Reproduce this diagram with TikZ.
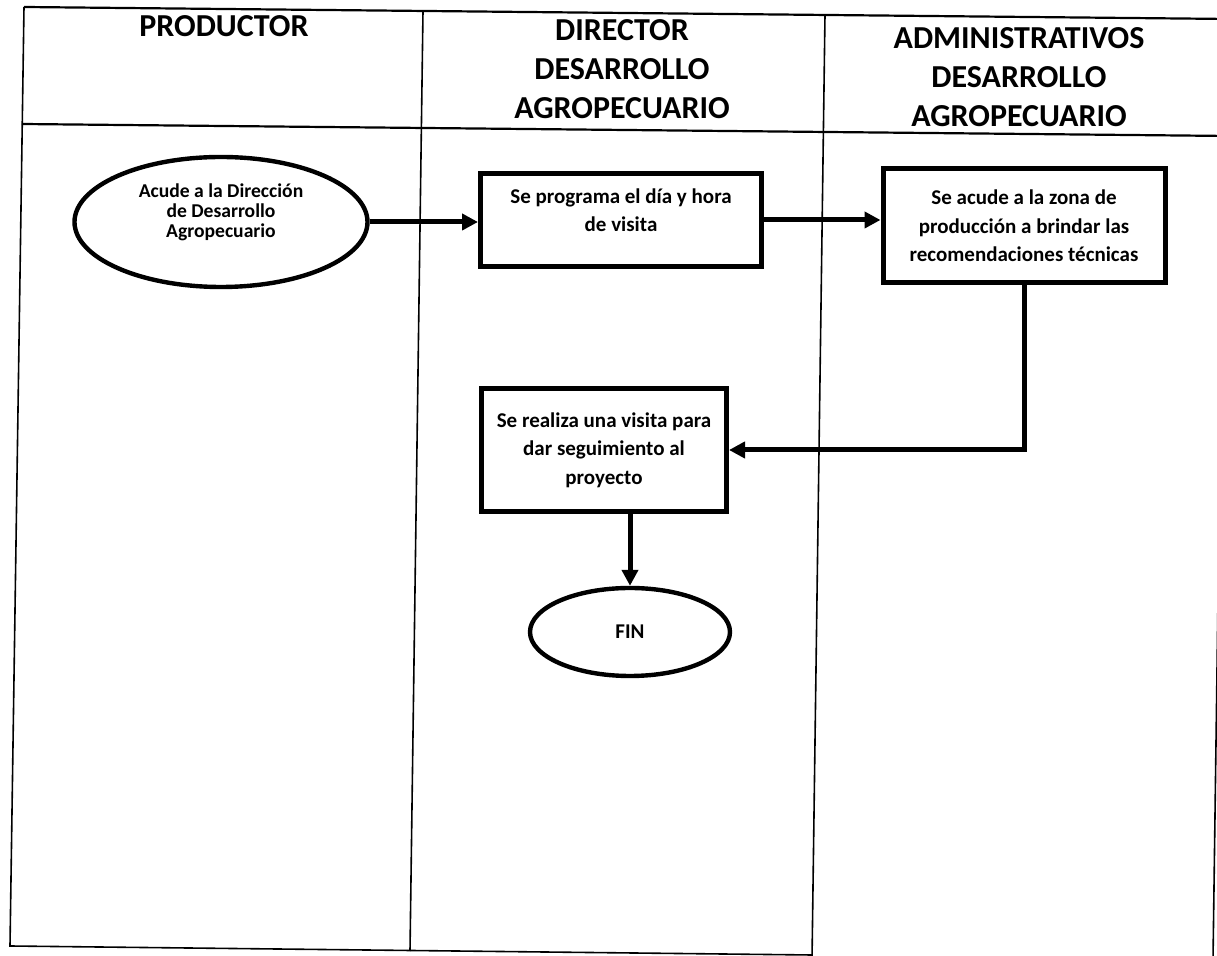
\documentclass[tikz,border=0pt]{standalone}
\usepackage{fontspec}
\setmainfont{Carlito}
\usetikzlibrary{shapes.geometric,arrows.meta}
\newcommand{\liftbox}[2]{\raisebox{#1}[0pt][0pt]{\begin{tabular}{@{}c@{}}#2\end{tabular}}}
\begin{document}
\begin{tikzpicture}[x=0.5pt,y=-0.5pt,
  lane/.style={line width=0.8pt},
  rule/.style={line width=1.1pt},
  head/.style={font=\bfseries\fontsize{16}{19.5}\selectfont, align=center, anchor=center},
  proc/.style={draw, line width=2.5pt, rectangle, inner sep=0pt, align=center, font=\bfseries\fontsize{10.5}{14.2}\selectfont},
  term/.style={draw, line width=2.2pt, ellipse, inner sep=0pt, align=center},
  flow/.style={line width=2.5pt, -{Triangle[length=8pt,width=8pt]}}
]
\useasboundingbox (0,0) rectangle (1217,956);
\begin{scope}
\clip (0,0) rectangle (1217,956);
% lanes (scan is slightly rotated)
\draw[rule] (24,7) -- (1230,19);
\draw[rule] (22,124) -- (1230,136);
\draw[lane] (24,7) -- (10,946) -- (812,955);
\draw[lane] (423,11) -- (410,951);
\draw[lane] (825,15) -- (812,960);
\draw[lane] (1226,19) -- (1213,960);
\end{scope}
% headers
\node[head] (h1) at (224,26) {PRODUCTOR};
\node[head] (h2) at (622,69) {DIRECTOR\\DESARROLLO\\AGROPECUARIO};
\node[head] (h3) at (1019,77) {ADMINISTRATIVOS\\DESARROLLO\\AGROPECUARIO};
% nodes
\node[term, minimum width=146.5pt, minimum height=65pt, font=\bfseries\fontsize{9.8}{10}\selectfont] (e1) at (221,222) {\liftbox{1.6pt}{Acude a la Dirección\\de Desarrollo\\Agropecuario}};
\node[proc, minimum width=140.5pt, minimum height=46.5pt] (b1) at (621,220) {\liftbox{1.2pt}{Se programa el día y hora\\de visita}};
\node[proc, minimum width=141pt, minimum height=57pt] (b2) at (1024,226) {Se acude a la zona de\\producción a brindar las\\recomendaciones técnicas};
\node[proc, minimum width=122.5pt, minimum height=61.5pt] (b3) at (604,450) {Se realiza una visita para\\dar seguimiento al\\proyecto};
\node[term, minimum width=100pt, minimum height=44pt, font=\bfseries\fontsize{10.5}{12}\selectfont] (fin) at (630,632) {FIN};
% connectors
\draw[flow] (e1.east) -- (e1.east -| b1.west);
\draw[flow] (b1.east) -- (b1.east -| b2.west);
\draw[flow] (b2.south) |- (b3.east);
\draw[flow] (fin.north |- b3.south) -- (fin.north);
\end{tikzpicture}
\end{document}
